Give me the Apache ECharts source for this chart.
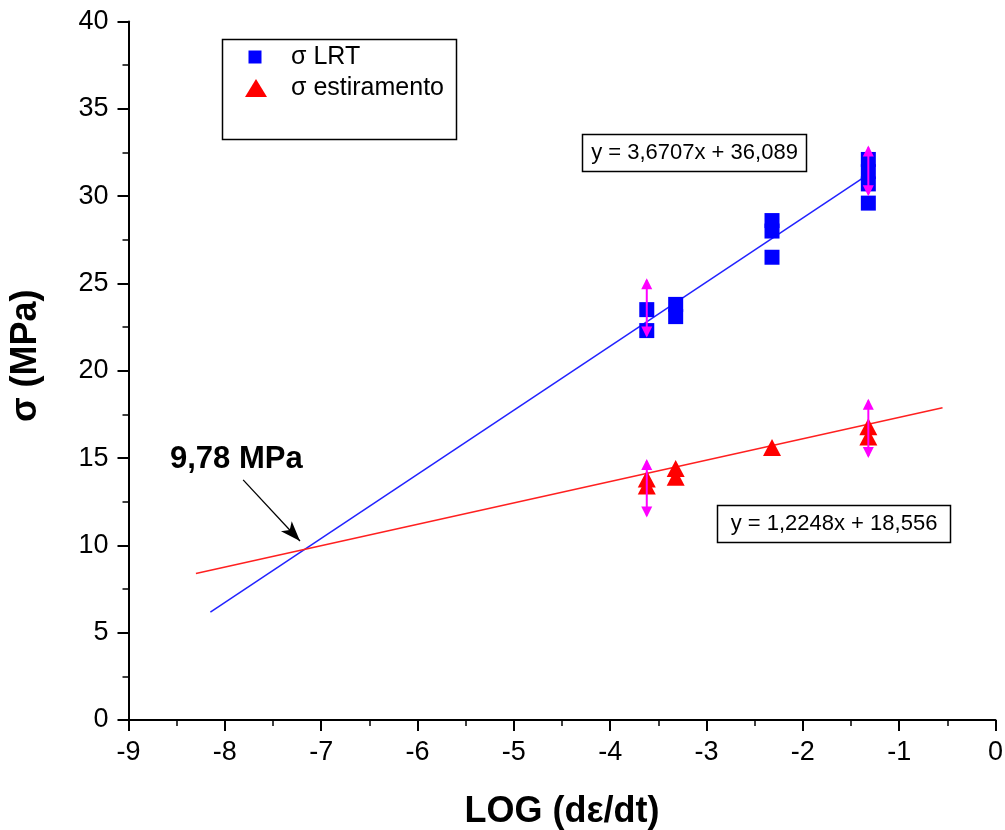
<!DOCTYPE html>
<html>
<head>
<meta charset="utf-8">
<title>σ x LOG (dε/dt)</title>
<script src="https://cdn.jsdelivr.net/npm/echarts@6/dist/echarts.min.js"></script>
<style>
  html, body { margin: 0; padding: 0; background: #fff; }
  #chart { width: 1005px; height: 830px; }
</style>
</head>
<body>
<div id="chart"></div>
<script>
// Strain-rate (log) positions of each measured specimen
const lrtX = [-3.62, -3.62, -3.32, -3.32, -2.32, -2.32, -2.32, -1.32, -1.32, -1.32, -1.32];
const lrtY = [23.5, 22.3, 23.8, 23.1, 28.6, 28.0, 26.5, 32.1, 31.4, 30.7, 29.6];

const estX = [-3.62, -3.62, -3.32, -3.32, -2.32, -1.32, -1.32];
const estY = [13.8, 13.4, 14.4, 13.9, 15.6, 16.8, 16.2];

// Error bars: position, lower end, upper end
const lrtErrX = [-3.62, -1.32];
const lrtErrLow = [21.9, 30.0];
const lrtErrHigh = [25.3, 32.9];

const estErrX = [-3.62, -1.32];
const estErrLow = [11.6, 15.0];
const estErrHigh = [14.95, 18.4];

// Linear fits: [slope, intercept] and plotted x-range
const lrtFitCoef = [3.6707, 36.089];
const lrtFitRange = [-8.15, -1.32];
const estFitCoef = [1.2248, 18.556];
const estFitRange = [-8.30, -0.55];

const intersectionLabel = '9,78 MPa';

const FONT = "'Liberation Sans', Arial, sans-serif";
const pairs = (xs, ys) => xs.map((x, i) => [x, ys[i]]);
const triples = (xs, lo, hi) => xs.map((x, i) => [x, lo[i], hi[i]]);
const fitLine = (coef, range) => range.map(x => [x, coef[0] * x + coef[1]]);
const dec = v => String(v).replace('.', ',');
const eqText = coef => `y = ${dec(coef[0])}x + ${dec(coef[1])}`;

function errorBar(params, api) {
  const x = api.value(0);
  const lo = api.coord([x, api.value(1)]);
  const hi = api.coord([x, api.value(2)]);
  const w = 5.5, h = 11, c = '#ff00ff';
  return {
    type: 'group',
    children: [
      { type: 'line', shape: { x1: lo[0], y1: lo[1] - 2, x2: hi[0], y2: hi[1] + 2 },
        style: { stroke: c, lineWidth: 2 } },
      { type: 'polygon', shape: { points: [[hi[0], hi[1]], [hi[0] - w, hi[1] + h], [hi[0] + w, hi[1] + h]] },
        style: { fill: c } },
      { type: 'polygon', shape: { points: [[lo[0], lo[1]], [lo[0] - w, lo[1] - h], [lo[0] + w, lo[1] - h]] },
        style: { fill: c } }
    ]
  };
}

const axisCommon = {
  axisLine: { show: true, onZero: false, lineStyle: { color: '#000', width: 2 } },
  axisTick: { show: true, inside: false, length: 11, lineStyle: { color: '#000', width: 2 } },
  minorTick: { show: true, splitNumber: 2, length: 6, lineStyle: { color: '#000', width: 1.5 } },
  splitLine: { show: false },
  minorSplitLine: { show: false },
  axisLabel: { color: '#000', fontSize: 27, fontFamily: FONT }
};

const chart = echarts.init(document.getElementById('chart'), null, { renderer: 'canvas' });

chart.setOption({
  backgroundColor: '#fff',
  animation: false,
  textStyle: { fontFamily: FONT },
  grid: { left: 128.5, right: 9.5, top: 21.5, bottom: 110, outerBoundsMode: 'none' },
  xAxis: Object.assign({}, axisCommon, {
    type: 'value', min: -9, max: 0, interval: 1,
    axisLabel: Object.assign({}, axisCommon.axisLabel, { margin: 19, showMaxLabel: true, showMinLabel: true }),
    name: 'LOG (dε/dt)', nameLocation: 'middle', nameGap: 74,
    nameTextStyle: { color: '#000', fontSize: 36, fontWeight: 'bold', fontFamily: FONT }
  }),
  yAxis: Object.assign({}, axisCommon, {
    type: 'value', min: 0, max: 40, interval: 5,
    axisLabel: Object.assign({}, axisCommon.axisLabel, { margin: 20 }),
    name: 'σ (MPa)', nameLocation: 'middle', nameGap: 84,
    nameTextStyle: { color: '#000', fontSize: 36, fontWeight: 'bold', fontFamily: FONT, padding: [0, 0, 0, 30] }
  }),
  series: [
    {
      name: 'LRT fit', type: 'line', data: fitLine(lrtFitCoef, lrtFitRange),
      showSymbol: false, symbol: 'none', silent: true, z: 2,
      lineStyle: { color: '#2222ff', width: 1.5 },
      markLine: {
        silent: true, symbol: ['none', 'arrow'], symbolSize: [11, 20],
        lineStyle: { color: '#000', width: 1.3, type: 'solid' },
        label: { show: false },
        data: [[{ coord: [-7.81, 13.75] }, { coord: [-7.22, 10.25] }]]
      }
    },
    {
      name: 'estiramento fit', type: 'line', data: fitLine(estFitCoef, estFitRange),
      showSymbol: false, symbol: 'none', silent: true, z: 2,
      lineStyle: { color: '#ff2020', width: 1.5 }
    },
    {
      name: 'σ LRT', type: 'scatter', data: pairs(lrtX, lrtY),
      symbol: 'rect', symbolSize: 15, z: 3,
      itemStyle: { color: '#0000ff', opacity: 1 }
    },
    {
      name: 'σ estiramento', type: 'scatter', data: pairs(estX, estY),
      symbol: 'triangle', symbolSize: [18, 17], z: 3,
      itemStyle: { color: '#ff0000', opacity: 1 }
    },
    {
      name: 'LRT error', type: 'custom', renderItem: errorBar, z: 4,
      data: triples(lrtErrX, lrtErrLow, lrtErrHigh), encode: { x: 0, y: [1, 2] }
    },
    {
      name: 'estiramento error', type: 'custom', renderItem: errorBar, z: 4,
      data: triples(estErrX, estErrLow, estErrHigh), encode: { x: 0, y: [1, 2] }
    }
  ],
  graphic: [
    // legend box
    { type: 'rect', shape: { x: 222.5, y: 39.5, width: 234, height: 100 },
      style: { fill: 'none', stroke: '#000', lineWidth: 1.5 }, z: 10 },
    { type: 'rect', shape: { x: 248.5, y: 50.5, width: 13, height: 13 },
      style: { fill: '#0000ff' }, z: 10 },
    { type: 'polygon', shape: { points: [[256, 79], [267, 97], [245, 97]] },
      style: { fill: '#ff0000' }, z: 10 },
    { type: 'text', x: 291, y: 57, z: 10,
      style: { text: 'σ LRT', fill: '#000', font: `25px ${FONT}`, verticalAlign: 'middle' } },
    { type: 'text', x: 291, y: 88, z: 10,
      style: { text: 'σ estiramento', fill: '#000', font: `25px ${FONT}`, verticalAlign: 'middle' } },
    // fit equations
    { type: 'rect', shape: { x: 582.5, y: 134.5, width: 224, height: 37 },
      style: { fill: '#fff', stroke: '#000', lineWidth: 1.5 }, z: 10 },
    { type: 'text', x: 694.5, y: 153, z: 11,
      style: { text: eqText(lrtFitCoef), fill: '#000', font: `22px ${FONT}`, align: 'center', verticalAlign: 'middle' } },
    { type: 'rect', shape: { x: 717.5, y: 505.5, width: 233, height: 37 },
      style: { fill: '#fff', stroke: '#000', lineWidth: 1.5 }, z: 10 },
    { type: 'text', x: 834, y: 524, z: 11,
      style: { text: eqText(estFitCoef), fill: '#000', font: `22px ${FONT}`, align: 'center', verticalAlign: 'middle' } },
    // intersection stress
    { type: 'text', x: 170, y: 459, z: 11,
      style: { text: intersectionLabel, fill: '#000', font: `bold 31px ${FONT}`, verticalAlign: 'middle' } }
  ]
});
</script>
</body>
</html>
